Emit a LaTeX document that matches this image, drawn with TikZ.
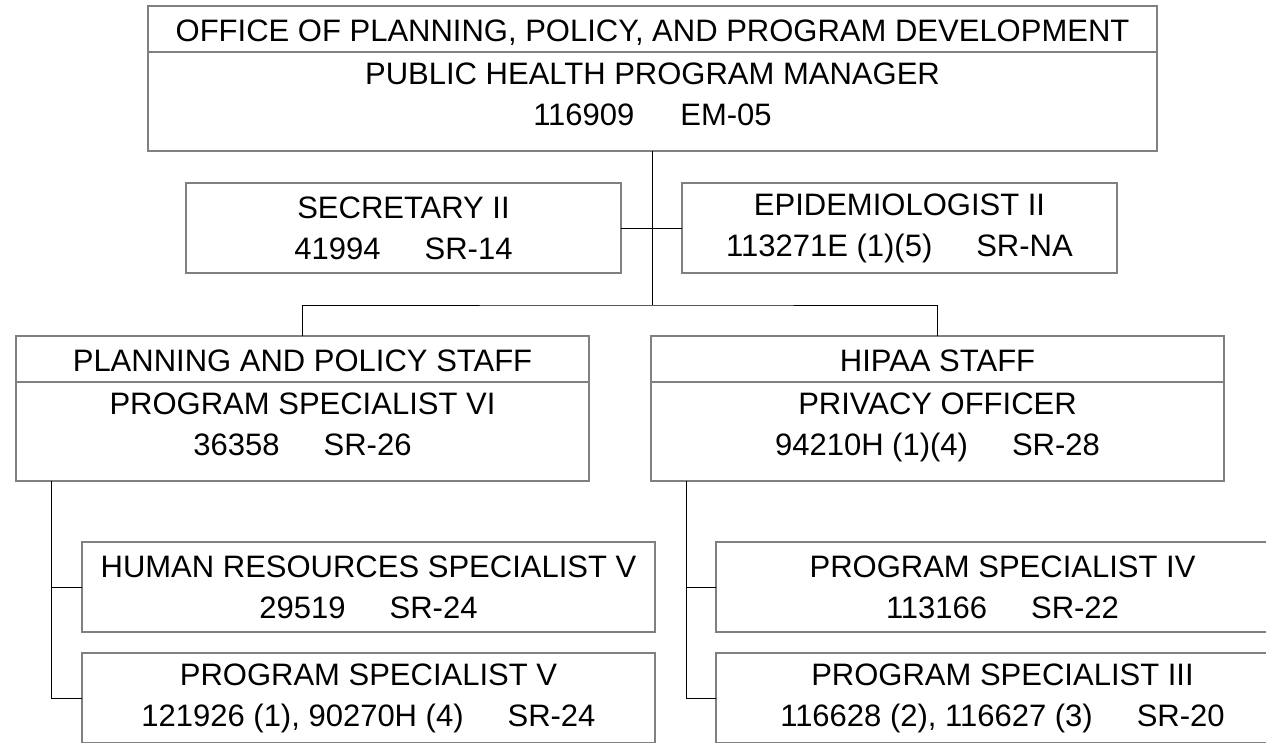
\documentclass[tikz,border=0pt]{standalone}
\usepackage{fontspec}
\newfontfamily\chartfont{Liberation Sans}
\usetikzlibrary{positioning}

\begin{document}
\begin{tikzpicture}[
    x=1pt, y=-1pt,
    node distance=0pt,
    unit/.style={
        draw=black!50,
        line width=1.6pt,
        outer sep=0pt,
        inner sep=0pt,
        align=center,
        font=\chartfont\fontsize{31pt}{41pt}\selectfont
    },
    head/.style={unit, minimum height=46pt, text height=25pt, text depth=0pt},
    body/.style={unit, minimum height=99pt},
    post/.style={unit, minimum height=90pt},
    link/.style={draw=black, line width=1pt}
]
\useasboundingbox (0,0) rectangle (1266,742);
\clip (0,0) rectangle (1266,742);

% Office
\node[head, minimum width=1009pt] (office) at (652.5,29) {OFFICE OF PLANNING, POLICY, AND PROGRAM DEVELOPMENT};
\node[body, minimum width=1009pt, below=of office] (manager) {
    PUBLIC HEALTH PROGRAM MANAGER \\
    116909\hspace{46pt}EM-05\rule[-15pt]{0pt}{15pt}
};

% Staff to the manager
\node[post, minimum width=435pt] (secretary) at (403.5,228) {
    SECRETARY II \\
    41994\hspace{44pt}SR-14
};
\node[post, minimum width=435pt] (epi) at (899.5,228) {
    EPIDEMIOLOGIST II \\
    113271E (1)(5)\hspace{44pt}SR-NA
};

% Sections
\node[head, minimum width=573pt] (ppstaff) at (302.5,359) {PLANNING AND POLICY STAFF};
\node[body, minimum width=573pt, below=of ppstaff] (ppbody) {
    PROGRAM SPECIALIST VI \\
    36358\hspace{44pt}SR-26\rule[-15pt]{0pt}{15pt}
};
\node[head, minimum width=573pt] (hipaa) at (937.5,359) {HIPAA STAFF};
\node[body, minimum width=573pt, below=of hipaa] (hipaabody) {
    PRIVACY OFFICER \\
    94210H (1)(4)\hspace{44pt}SR-28\rule[-15pt]{0pt}{15pt}
};

% Positions under the sections
\node[post, minimum width=573pt] (hr) at (368.5,587) {
    HUMAN RESOURCES SPECIALIST V \\
    29519\hspace{44pt}SR-24
};
\node[post, minimum width=573pt] (psv) at (368.5,698) {
    PROGRAM SPECIALIST V \\
    121926 (1), 90270H (4)\hspace{44pt}SR-24
};
\node[post, minimum width=573pt] (psiv) at (1002.5,587) {
    PROGRAM SPECIALIST IV \\
    113166\hspace{44pt}SR-22
};
\node[post, minimum width=573pt] (psiii) at (1002.5,698) {
    PROGRAM SPECIALIST III \\
    116628 (2), 116627 (3)\hspace{44pt}SR-20
};

% Lines
\coordinate (bus) at (652.5,305);
\coordinate (lspine) at ([xshift=35pt]ppbody.south west);
\coordinate (rspine) at ([xshift=35pt]hipaabody.south west);
\draw[link] (manager.south) -- (bus);
\draw[link] (secretary.east) -- (epi.west);
\draw[link] (ppstaff.north) |- (bus) -| (hipaa.north);
\draw[link] (lspine) |- (psv.west);
\draw[link] (hr.west) -- (hr.west -| lspine);
\draw[link] (rspine) |- (psiii.west);
\draw[link] (psiv.west) -- (psiv.west -| rspine);

\end{tikzpicture}
\end{document}
